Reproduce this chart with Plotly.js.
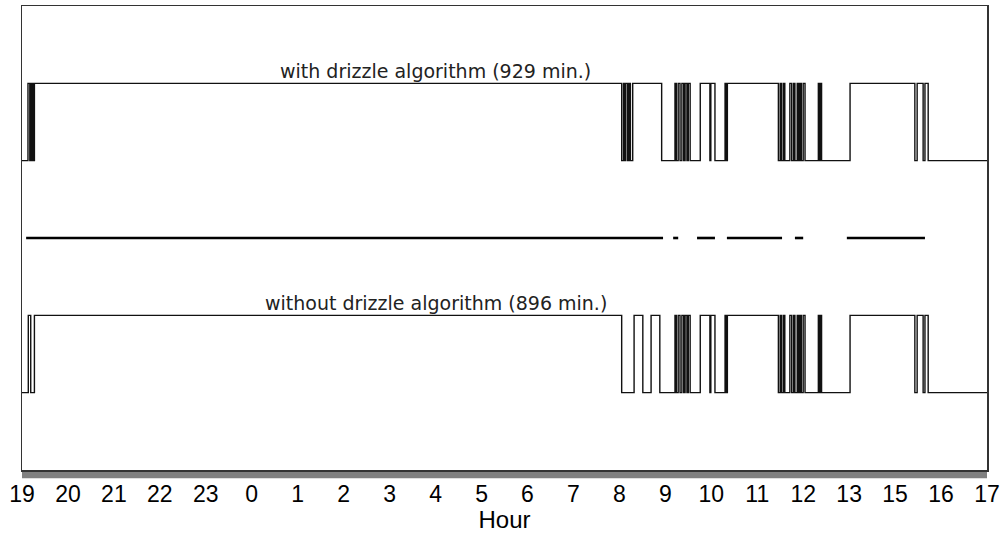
<!DOCTYPE html>
<html>
<head>
<meta charset="utf-8">
<script src="https://cdn.plot.ly/plotly-3.0.1.min.js"></script>
<style>
  html, body { margin: 0; padding: 0; background: #fff; }
  #chart { width: 1003px; height: 533px; }
</style>
</head>
<body>
<div id="chart"></div>
<script>
// Axis positions (evenly spaced tick slots) and their hour labels
const tickPos = [0,1,2,3,4,5,6,7,8,9,10,11,12,13,14,15,16,17,18,19,20,21];
const hourLabels = ['19','20','21','22','23','0','1','2','3','4','5','6','7','8','9','10','11','12','13','15','16','17'];

// "with drizzle algorithm" : switching times (axis units) and on/off state
const withX = [0, 0.13,0.17,0.19,0.21,0.23,0.25,0.27,
  13.05,13.09,13.12,13.14,13.18,13.21,13.24,13.29,
  13.92,
  14.21,14.24,14.28,14.32,14.36,14.40,14.43,14.47,14.50,14.54,
  14.76,14.97,14.99,15.08,
  15.30,15.32,15.35,
  16.46,16.50,16.53,16.57,16.60,16.71,16.75,16.79,16.82,16.87,16.90,16.93,16.96,17.00,17.04,
  17.33,17.35,17.38,17.40,
  18.02,
  19.43,19.48,19.61,19.65,19.72,
  21];
const withState = [0, 1,0,1,0,1,0,1,
  0,1,0,1,0,1,0,1,
  0,
  1,0,1,0,1,0,1,0,1,0,
  1,0,1,0,
  1,0,1,
  0,1,0,1,0,1,0,1,0,1,0,1,0,1,0,
  1,0,1,0,
  1,
  0,1,0,1,0,
  0];

// "without drizzle algorithm"
const withoutX = [0, 0.137,0.19,0.27,
  13.05,13.32,13.51,13.69,13.88,
  14.21,14.24,14.28,14.32,14.36,14.40,14.43,14.47,14.50,14.54,
  14.76,14.97,14.99,15.08,
  15.30,15.32,15.35,
  16.46,16.50,16.53,16.57,16.60,16.71,16.75,16.79,16.82,16.87,16.90,16.93,16.96,17.00,17.04,
  17.33,17.35,17.38,17.40,
  18.02,
  19.43,19.48,19.61,19.65,19.72,
  21];
const withoutState = [0, 1,0,1,
  0,1,0,1,0,
  1,0,1,0,1,0,1,0,1,0,
  1,0,1,0,
  1,0,1,
  0,1,0,1,0,1,0,1,0,1,0,1,0,1,0,
  1,0,1,0,
  1,
  0,1,0,1,0,
  0];

// Middle bar: [start, end] segments (axis units)
const midStart = [0.09, 14.17, 14.69, 15.34, 16.82, 17.95];
const midEnd   = [13.95, 14.28, 15.08, 16.54, 17.00, 19.65];

const withLabel = 'with drizzle algorithm (929 min.)';
const withoutLabel = 'without drizzle algorithm (896 min.)';

// levels on the vertical axis
const withBase = 4, withoutBase = 1, midLevel = 3;

const midX = [], midY = [];
midStart.forEach((s, i) => { midX.push(s, midEnd[i], null); midY.push(midLevel, midLevel, null); });

const traces = [
  { x: withX, y: withState.map(s => withBase + s), mode: 'lines', line: {shape: 'hv', color: '#111', width: 1.4}, hoverinfo: 'skip' },
  { x: withoutX, y: withoutState.map(s => withoutBase + s), mode: 'lines', line: {shape: 'hv', color: '#111', width: 1.4}, hoverinfo: 'skip' },
  { x: midX, y: midY, mode: 'lines', line: {color: '#000', width: 2.6}, connectgaps: false, hoverinfo: 'skip' }
];

const layout = {
  width: 1003, height: 533,
  margin: {l: 22, r: 16, t: 6, b: 63, pad: 0},
  paper_bgcolor: '#fff', plot_bgcolor: '#fff',
  showlegend: false,
  font: {family: 'Liberation Sans, Arial, sans-serif', color: '#000'},
  xaxis: {
    range: [0, 21], tickmode: 'array', tickvals: tickPos, ticktext: hourLabels,
    showgrid: false, zeroline: false, ticks: '', ticklabelstandoff: 3,
    showline: true, mirror: true, linecolor: '#333', linewidth: 1.5,
    tickfont: {size: 23, color: '#000'},
    title: {text: 'Hour', font: {size: 24, color: '#000'}, standoff: 6}
  },
  yaxis: {
    range: [0, 6], showgrid: false, zeroline: false, showticklabels: false, ticks: '',
    showline: true, mirror: true, linecolor: '#333', linewidth: 1.5
  },
  shapes: [
    {type: 'rect', xref: 'paper', yref: 'paper', x0: 0, x1: 1, y0: -0.018, y1: -0.002,
     fillcolor: '#808080', line: {width: 0}, layer: 'below'}
  ],
  annotations: [
    {text: withLabel, x: 9.0, y: withBase + 1, xref: 'x', yref: 'y', xanchor: 'center', yanchor: 'bottom',
     showarrow: false, font: {family: 'DejaVu Sans, sans-serif', size: 19, color: '#222'}, yshift: -1},
    {text: withoutLabel, x: 9.0, y: withoutBase + 1, xref: 'x', yref: 'y', xanchor: 'center', yanchor: 'bottom',
     showarrow: false, font: {family: 'DejaVu Sans, sans-serif', size: 19, color: '#222'}, yshift: -1}
  ]
};

Plotly.newPlot('chart', traces, layout, {displayModeBar: false, staticPlot: true});
</script>
</body>
</html>
